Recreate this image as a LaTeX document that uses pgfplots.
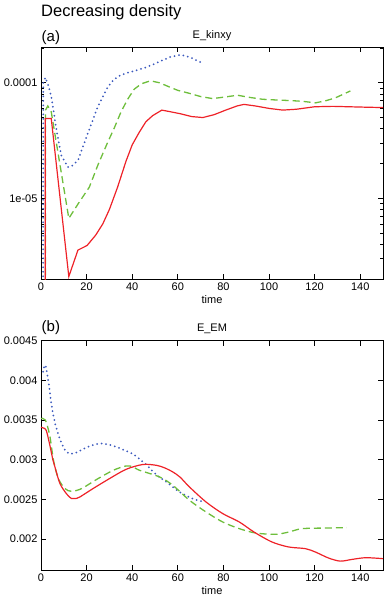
\documentclass[border=0pt]{standalone}
\usepackage{fontspec}
\setmainfont{Liberation Sans}
\usepackage{pgfplots}
\pgfplotsset{compat=1.18}
\definecolor{cred}{RGB}{238,34,40}
\definecolor{cgreen}{RGB}{110,190,60}
\definecolor{cblue}{RGB}{60,90,190}
\pgfplotsset{
  myax/.style={
    scale only axis, width=342pt,
    xmin=0, xmax=150,
    xtick={0,20,...,140},
    /pgf/number format/assume math mode=true,
    tick label style={font=\fontsize{11}{13}\selectfont},
    label style={font=\fontsize{11}{13}\selectfont},
    title style={font=\fontsize{11}{13}\selectfont, at={(0.5,1)}, anchor=south, yshift=-3pt},
    axis line style={line width=0.9pt},
    tick style={black, line width=0.7pt},
    major tick length=5pt, minor tick length=3pt,
    tick align=inside,
    xlabel=time,
    xlabel style={yshift=2pt},
    scaled y ticks=false,
    clip=true,
  },
  red line/.style={cred, line width=1.2pt},
  green line/.style={cgreen, line width=1.3pt, dash pattern=on 7pt off 4pt},
  blue line/.style={cblue, line width=2pt, line cap=round, dash pattern=on 0pt off 4.5pt},
}
\begin{document}
\begin{tikzpicture}
\path[use as bounding box] (0pt,0pt) rectangle (385pt,-603pt);
\node[anchor=west, inner sep=0pt, font=\fontsize{16.5}{18}\selectfont] at (41pt,-12pt) {Decreasing density};
\node[anchor=west, inner sep=0pt, font=\fontsize{15}{17}\selectfont] at (41.5pt,-37.5pt) {(a)};
\node[anchor=west, inner sep=0pt, font=\fontsize{15}{17}\selectfont] at (41.5pt,-327.5pt) {(b)};
\begin{axis}[myax, at={(41pt,-47pt)}, anchor=north west, height=232pt,
  ymode=log, ymin=2e-6, ymax=2.04e-4,
  ytick={1e-5,1e-4}, yticklabels={1e-05,0.0001},
  minor ytick={2e-6,3e-6,4e-6,5e-6,6e-6,7e-6,8e-6,9e-6,2e-5,3e-5,4e-5,5e-5,6e-5,7e-5,8e-5,9e-5,2e-4},
  title={E\_kinxy}]
\addplot[blue line] coordinates {
(0.9,1e-7) (1.0,1.0e-4) (1.9,1.11e-4) (3.2,9.5e-5) (4.5,7.6e-5) (6.7,4.0e-5) (8.9,2.35e-5)
(11.8,1.86e-5) (13.5,1.9e-5) (16.2,2.13e-5) (20.5,3.63e-5) (24.9,6.2e-5) (29.3,9.2e-5)
(32,1.07e-4) (35.1,1.17e-4) (38.5,1.23e-4) (42.4,1.29e-4) (46,1.36e-4) (49.6,1.45e-4)
(53.4,1.57e-4) (57,1.68e-4) (60.7,1.74e-4) (63,1.72e-4) (65.8,1.65e-4) (70.2,1.50e-4)};
\addplot[green line] coordinates {
(1.95,1e-7) (2.0,5.8e-5) (3.0,6.3e-5) (4.5,5.6e-5) (12.2,6.7e-6) (16.2,8.9e-6) (21.2,1.25e-5)
(25,1.95e-5) (29.3,3.07e-5) (32,4.0e-5) (35.1,5.6e-5) (38,7.2e-5) (40.9,8.8e-5) (44,9.8e-5)
(48,1.04e-4) (52,1.0e-4) (56.3,9.2e-5) (60,8.6e-5) (65.1,8.1e-5) (70,7.6e-5) (75.2,7.3e-5)
(80,7.5e-5) (86.2,7.8e-5) (91,7.5e-5) (97.1,7.2e-5) (103,7.1e-5) (110.2,7.0e-5) (115,6.9e-5)
(120.4,6.7e-5) (125,7.0e-5) (129.1,7.4e-5) (135.7,8.5e-5)};
\addplot[red line] coordinates {
(1.9,1e-7) (1.9,4.9e-5) (4.5,4.9e-5) (12.2,2.1e-6) (16.2,3.56e-6) (20.2,3.9e-6) (24,4.8e-6)
(27.1,6.0e-6) (30,8e-6) (33.6,1.25e-5) (37.3,2.1e-5) (40,2.9e-5) (43,3.7e-5) (46,4.6e-5)
(49,5.2e-5) (53,5.8e-5) (57,5.6e-5) (61,5.4e-5) (66,5.1e-5) (71,5.0e-5) (76,5.3e-5)
(81,5.8e-5) (86,6.3e-5) (89,6.5e-5) (94,6.3e-5) (100,6.0e-5) (106,5.8e-5) (112,5.9e-5)
(120,6.2e-5) (128,6.25e-5) (135,6.2e-5) (142,6.15e-5) (150,6.1e-5)};
\end{axis}
\begin{axis}[myax, at={(41pt,-340.7pt)}, anchor=north west, height=229.3pt,
  ymin=0.00161, ymax=0.0045,
  ytick={0.002,0.0025,0.003,0.0035,0.004,0.0045},
  yticklabels={0.002,0.0025,0.003,0.0035,0.004,0.0045},
  title={E\_EM}]
\addplot[blue line, smooth, tension=0.5] coordinates {
(0.9,0.004109) (1.9,0.004193) (3.4,0.003962) (4.5,0.00371) (6.0,0.003477) (8.2,0.003268)
(11.1,0.003099) (14.4,0.003078) (20.5,0.003162) (26.3,0.003205) (32.2,0.003171) (36.5,0.00312)
(41,0.00306) (46,0.00294) (51,0.0028) (55,0.00272) (60.7,0.002594) (66.5,0.00251) (71.6,0.002467)};
\addplot[green line, smooth, tension=0.5] coordinates {
(0,0.00352) (1.9,0.00350) (3.8,0.00331) (5.5,0.00299) (7.6,0.002763) (10.5,0.002636)
(13.4,0.002602) (17.8,0.002636) (24.3,0.00275) (31.7,0.002867) (37.4,0.002922) (40.3,0.00291)
(43.2,0.002867) (52,0.002783) (57.8,0.002678) (65.1,0.002489) (72.4,0.002341) (79.7,0.002215)
(87,0.002131) (94.2,0.002076) (102.9,0.00206) (108.7,0.002089) (114.5,0.002131) (124.8,0.002139)
(134.2,0.002144)};
\addplot[red line, smooth, tension=0.5] coordinates {
(0,0.00341) (1,0.00340) (2.3,0.00337) (3.9,0.00318) (5.2,0.00300) (6.1,0.00291) (8.3,0.00270)
(11.2,0.00257) (13.4,0.00251) (15,0.00251) (17,0.00253) (22.8,0.002636) (30.1,0.002763)
(37.4,0.00288) (44.7,0.00294) (50.5,0.00293) (54,0.00290) (57.8,0.002846) (61,0.00278)
(65.1,0.002657) (72.4,0.002467) (79.7,0.002321) (87,0.002215) (93.4,0.002089) (101.4,0.001962)
(108.7,0.0019) (116,0.001879) (120.4,0.001836) (126.2,0.00176) (131.3,0.001722) (136.5,0.001744)
(142.4,0.001765) (150,0.001753)};
\end{axis}
\end{tikzpicture}
\end{document}
